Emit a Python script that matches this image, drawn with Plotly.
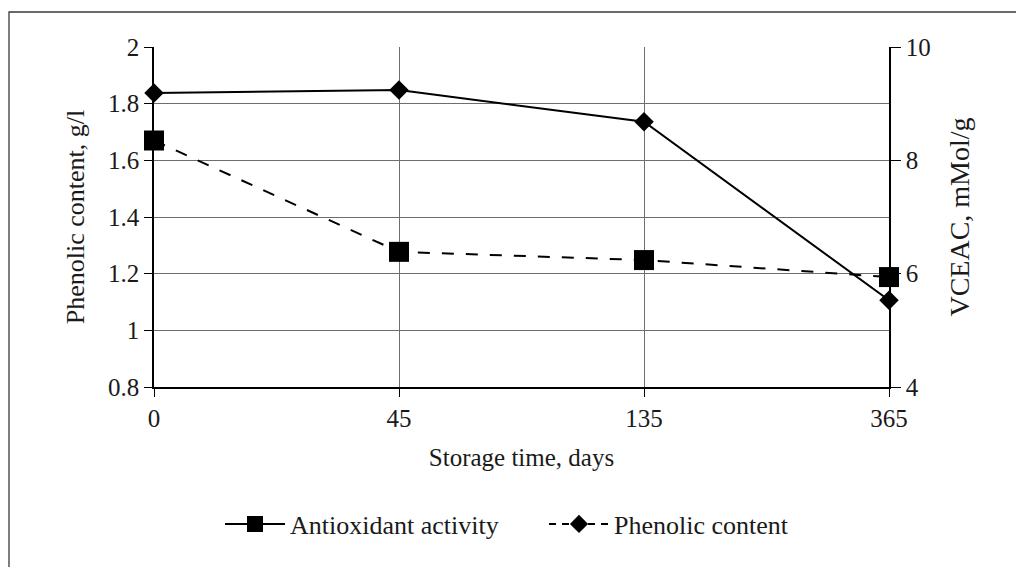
import plotly.graph_objects as go

# ---- data ----
days = ["0", "45", "135", "365"]
phenolic_content = [1.670, 1.277, 1.248, 1.188]   # g/l, dashed line, square markers, left axis
vceac = [9.19, 9.24, 8.68, 5.53]                  # mMol/g, solid line, diamond markers, right axis
left_ticks = [0.8, 1, 1.2, 1.4, 1.6, 1.8, 2]
right_ticks = [4, 6, 8, 10]
legend_names = ["Antioxidant activity", "Phenolic content"]

FONT = "Liberation Serif"
INK = "#1a1a1a"
GRID = "#6e6e6e"

fig = go.Figure()

# plotted series
fig.add_trace(go.Scatter(
    x=days, y=vceac, yaxis="y2", mode="lines+markers", showlegend=False,
    line=dict(color="black", width=2),
    marker=dict(symbol="diamond", size=15, color="black"),
    cliponaxis=False,
))
fig.add_trace(go.Scatter(
    x=days, y=phenolic_content, yaxis="y", mode="lines+markers", showlegend=False,
    line=dict(color="black", width=2, dash="12px,12px"),
    marker=dict(symbol="square", size=20, color="black"),
    cliponaxis=False,
))

# legend entries (as drawn in the reference)
fig.add_trace(go.Scatter(
    x=[None], y=[None], mode="lines+markers", name=legend_names[0], legend="legend",
    line=dict(color="black", width=2),
    marker=dict(symbol="square", size=16, color="black"),
))
fig.add_trace(go.Scatter(
    x=[None], y=[None], mode="lines+markers", name=legend_names[1], legend="legend2",
    line=dict(color="black", width=2, dash="7px,6px"),
    marker=dict(symbol="diamond", size=14, color="black"),
))

# outer frame
fig.add_shape(type="rect", xref="paper", yref="paper",
              x0=(9 - 154) / 735, x1=1.25, y0=-0.7, y1=(387 - 12) / 340,
              line=dict(color="#3a3a3a", width=1.3), layer="below")

legend_common = dict(
    orientation="h", y=-0.403, yanchor="middle", xanchor="left", itemwidth=60,
    font=dict(size=26, family=FONT, color=INK), bgcolor="rgba(0,0,0,0)",
)

fig.update_layout(
    width=1016, height=567,
    margin=dict(l=154, r=127, t=47, b=180),
    paper_bgcolor="white", plot_bgcolor="white",
    font=dict(family=FONT, size=25, color=INK),
    xaxis=dict(
        type="category", categoryorder="array", categoryarray=days,
        range=[0, 3], showgrid=True, gridcolor=GRID, gridwidth=1,
        showline=True, linecolor="black", linewidth=1.5,
        ticks="outside", ticklen=8, tickcolor="black", tickwidth=1.2,
        tickfont=dict(size=25),
        title=dict(text="Storage time, days", font=dict(size=25), standoff=18),
        zeroline=False, fixedrange=True,
    ),
    yaxis=dict(
        range=[0.8, 2], tickvals=left_ticks, ticktext=[f"{v:g}" for v in left_ticks],
        showgrid=True, gridcolor=GRID, gridwidth=1,
        showline=True, linecolor="black", linewidth=1.5,
        ticks="outside", ticklen=8, tickcolor="black", tickwidth=1.2,
        tickfont=dict(size=25),
        title=dict(text="Phenolic content, g/l", font=dict(size=26), standoff=16),
        zeroline=False,
    ),
    yaxis2=dict(
        range=[4, 10], tickvals=right_ticks, overlaying="y", side="right",
        showgrid=False, showline=True, linecolor="black", linewidth=1.5,
        ticks="outside", ticklen=10, tickcolor="black", tickwidth=1.2,
        tickfont=dict(size=25),
        title=dict(text="VCEAC, mMol/g", font=dict(size=28), standoff=20),
        zeroline=False,
    ),
    legend=dict(x=(220 - 154) / 735, **legend_common),
    legend2=dict(x=(544 - 154) / 735, **legend_common),
    showlegend=True,
)

fig.write_html("out.html", post_script="document.body.style.margin='0';",
               config={"displayModeBar": False})
